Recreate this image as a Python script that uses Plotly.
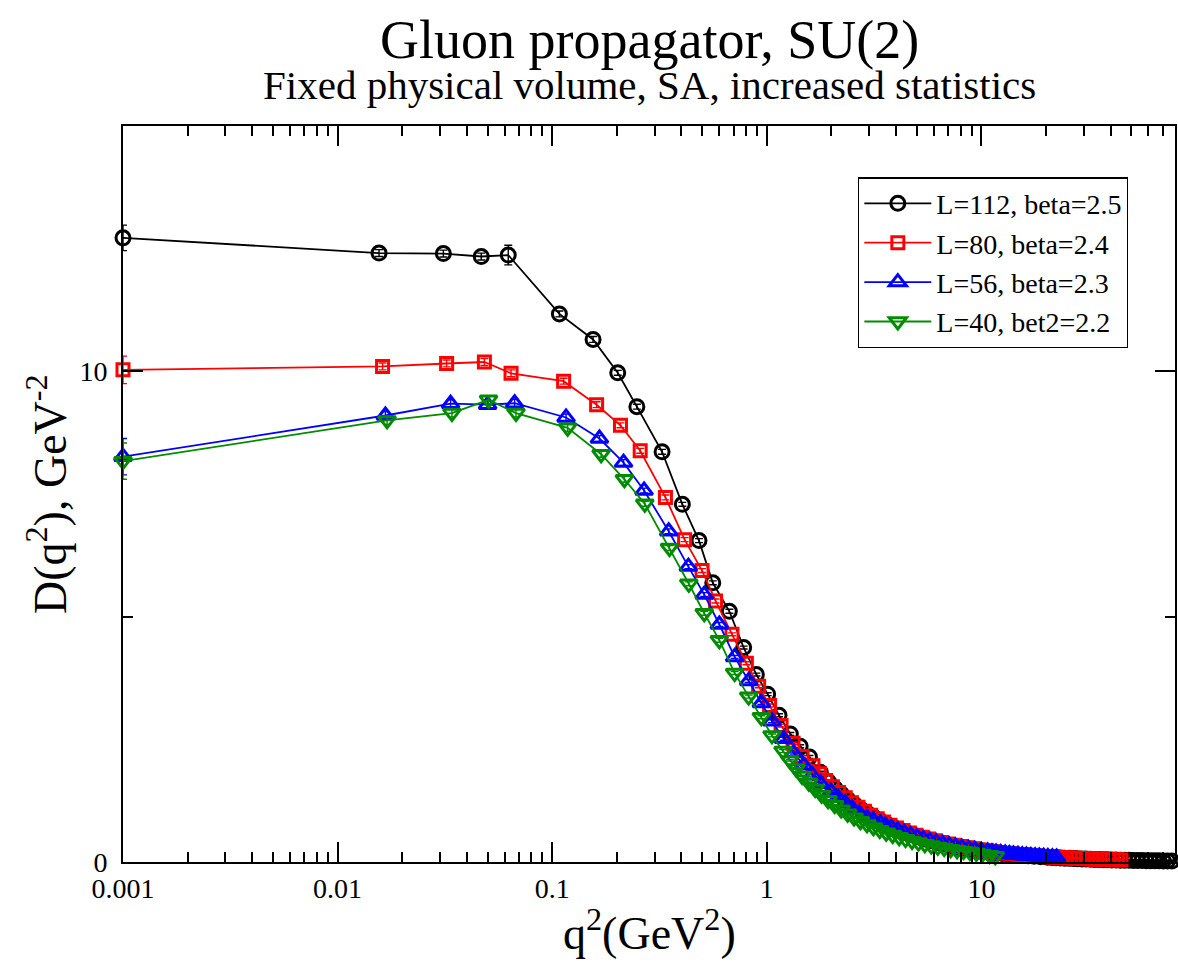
import plotly.graph_objects as go

# ---------------- data ----------------
# L=112, beta=2.5
q2_L112 = [0.001, 0.0156, 0.0311, 0.0467, 0.0624, 0.108, 0.155, 0.202, 0.248, 0.325,
           0.404, 0.483, 0.560, 0.669, 0.780, 0.894, 1.009, 1.14, 1.287, 1.43, 1.58, 1.775, 1.94,
           2.08, 2.23, 2.39, 2.56, 2.74, 2.94, 3.15, 3.37, 3.61, 3.87,
           4.15, 4.44, 4.76, 5.10, 5.46, 5.85, 6.27, 6.72, 7.20, 7.71,
           8.26, 8.85, 9.48, 10.2, 10.9, 11.7, 12.5, 13.4, 14.3, 15.4,
           16.5, 17.6, 18.9, 20.3,
           21.3, 22.3, 23.3, 24.4, 25.6, 26.8, 28.0, 29.4, 30.7, 32.2,
           33.7, 35.3, 37.0, 38.7, 40.5, 42.4, 44.4, 46.5, 48.7, 51.0,
           53.4, 55.9, 58.6, 61.3, 64.2, 67.2, 70.4, 73.7, 77.2, 80.8, 84.6]
D_L112 = [12.72, 12.41, 12.40, 12.34, 12.37, 11.17, 10.65, 9.97, 9.28, 8.36,
          7.29, 6.55, 5.69, 5.11, 4.37, 3.82, 3.42, 2.99, 2.61, 2.36, 2.14, 1.83, 1.63,
          1.500, 1.381, 1.271, 1.170, 1.077, 0.991, 0.912, 0.839, 0.773, 0.711,
          0.655, 0.602, 0.554, 0.510, 0.470, 0.432, 0.398, 0.366, 0.337, 0.310,
          0.286, 0.263, 0.242, 0.223, 0.205, 0.189, 0.174, 0.160, 0.147, 0.135,
          0.125, 0.115, 0.106, 0.097,
          0.092, 0.087, 0.082, 0.078, 0.074, 0.070, 0.066, 0.062, 0.059, 0.056,
          0.053, 0.050, 0.047, 0.045, 0.042, 0.040, 0.038, 0.036, 0.034, 0.032,
          0.030, 0.029, 0.027, 0.026, 0.024, 0.023, 0.022, 0.021, 0.020, 0.018, 0.017]
err_L112 = [0.26, 0.07, 0.07, 0.07, 0.20, 0.06, 0.06, 0.05, 0.05, 0.05,
            0.04, 0.04, 0.04, 0.04, 0.03, 0.03, 0.03, 0.03, 0.03, 0.03, 0.03, 0.02, 0.02]

# L=80, beta=2.4
q2_L80 = [0.001, 0.0162, 0.0322, 0.0483, 0.0643, 0.113, 0.161, 0.208, 0.257, 0.337,
          0.414, 0.499, 0.577, 0.688, 0.803, 0.916, 1.03, 1.165, 1.325, 1.46, 1.64,
          1.76, 1.88, 2.02, 2.16, 2.32, 2.48, 2.66, 2.85, 3.05, 3.27,
          3.50, 3.75, 4.02, 4.31, 4.62, 4.95, 5.30, 5.68, 6.09, 6.52,
          6.99, 7.49, 8.02, 8.60, 9.21, 9.87, 10.6, 11.3, 12.1, 13.0,
          13.9, 14.9, 16.0, 17.1, 18.3, 19.6,
          20.6, 21.5, 22.5, 23.6, 24.7, 25.9, 27.1, 28.4, 29.7, 31.1,
          32.6, 34.1, 35.7, 37.4, 39.2, 41.0, 42.9, 44.7]
D_L80 = [10.03, 10.10, 10.16, 10.19, 9.96, 9.80, 9.32, 8.90, 8.38, 7.43,
         6.57, 5.94, 5.32, 4.64, 4.05, 3.58, 3.19, 2.78, 2.42, 2.15, 1.96,
         1.798, 1.661, 1.534, 1.417, 1.309, 1.209, 1.117, 1.032, 0.953, 0.880,
         0.813, 0.751, 0.694, 0.641, 0.592, 0.547, 0.505, 0.467, 0.431, 0.398,
         0.368, 0.340, 0.314, 0.290, 0.268, 0.247, 0.228, 0.211, 0.195, 0.180,
         0.166, 0.154, 0.142, 0.131, 0.121, 0.112,
         0.106, 0.101, 0.096, 0.091, 0.086, 0.082, 0.077, 0.073, 0.070, 0.066,
         0.063, 0.059, 0.056, 0.053, 0.051, 0.048, 0.046, 0.043]
err_L80 = [0.28, 0.07, 0.07, 0.07, 0.07, 0.06, 0.06, 0.05, 0.05, 0.05,
           0.04, 0.04, 0.04, 0.03, 0.03, 0.03, 0.03, 0.03, 0.02, 0.02, 0.02]

# L=56, beta=2.3
q2_L56 = [0.001, 0.0167, 0.0336, 0.0500, 0.0668, 0.116, 0.166, 0.215, 0.268, 0.349,
          0.431, 0.511, 0.601, 0.708, 0.823, 0.943, 1.057, 1.197, 1.334, 1.485,
          1.63, 1.78, 1.99, 2.15, 2.32, 2.50, 2.70, 2.93, 3.13, 3.39, 3.56, 3.80,
          4.07, 4.36, 4.67, 5.01, 5.36, 5.75, 6.16, 6.60, 7.07, 7.57,
          8.11, 8.69, 9.31, 9.98, 10.7,
          11.2, 11.7, 12.3, 12.9, 13.5, 14.1, 14.8, 15.5, 16.2, 17.0,
          17.8, 18.6, 19.5, 20.4, 21.4, 22.4]
D_L56 = [8.26, 9.10, 9.34, 9.32, 9.35, 9.06, 8.63, 8.14, 7.57, 6.74,
         6.02, 5.45, 4.84, 4.18, 3.69, 3.24, 2.87, 2.51, 2.22, 1.97,
         1.77, 1.60, 1.43, 1.31, 1.20, 1.09, 0.99, 0.90, 0.85, 0.785, 0.745, 0.70,
         0.647, 0.597, 0.552, 0.510, 0.471, 0.435, 0.402, 0.371, 0.343, 0.317,
         0.292, 0.270, 0.250, 0.231, 0.213,
         0.202, 0.192, 0.182, 0.172, 0.163, 0.155, 0.147, 0.139, 0.132, 0.125,
         0.119, 0.113, 0.107, 0.101, 0.096, 0.091]
err_L56 = [0.37, 0.08, 0.08, 0.08, 0.08, 0.07, 0.06, 0.06, 0.05, 0.05,
           0.04, 0.04, 0.04, 0.03, 0.03, 0.03, 0.03, 0.03, 0.02, 0.02,
           0.02, 0.02, 0.02, 0.02, 0.02, 0.02, 0.02, 0.02, 0.02, 0.02, 0.02, 0.02]

# L=40, beta=2.2
q2_L40 = [0.001, 0.0170, 0.0341, 0.0505, 0.0678, 0.118, 0.169, 0.217, 0.270, 0.352,
          0.433, 0.511, 0.601, 0.708, 0.823, 0.943, 1.057, 1.19,
          1.28, 1.37, 1.46, 1.57, 1.68, 1.80, 1.93, 2.07, 2.22, 2.38,
          2.55, 2.73, 2.93, 3.14, 3.36, 3.60, 3.86, 4.14, 4.43, 4.75,
          5.09, 5.45, 5.84, 6.26, 6.71, 7.19, 7.70, 8.25, 8.84, 9.47,
          10.1, 10.9, 11.6]
D_L40 = [8.17, 9.00, 9.15, 9.42, 9.15, 8.85, 8.31, 7.80, 7.30, 6.40,
         5.67, 5.07, 4.52, 3.85, 3.37, 2.95, 2.58, 2.26,
         2.071, 1.906, 1.754, 1.615, 1.486, 1.368, 1.259, 1.159, 1.067, 0.982,
         0.904, 0.832, 0.766, 0.705, 0.649, 0.597, 0.550, 0.506, 0.466, 0.429,
         0.395, 0.363, 0.334, 0.308, 0.283, 0.261, 0.240, 0.221, 0.203, 0.185,
         0.165, 0.140, 0.115]
err_L40 = [0.37, 0.08, 0.08, 0.08, 0.08, 0.07, 0.06, 0.06, 0.05, 0.05,
           0.04, 0.04, 0.04, 0.03, 0.03, 0.03, 0.03, 0.03]

legend_names = ["L=112, beta=2.5", "L=80, beta=2.4", "L=56, beta=2.3", "L=40, bet2=2.2"]

x_major_vals = [0.001, 0.01, 0.1, 1, 10]
x_major_text = ["0.001", "0.01", "0.1", "1", "10"]
y_major_vals = [0, 10]
y_major_text = ["0", "10"]
y_minor_vals = [5]

title_text = "Gluon propagator, SU(2)"
subtitle_text = "Fixed physical volume, SA, increased statistics"
x_title = "q<sup>2</sup>(GeV<sup>2</sup>)"
y_title = "D(q<sup>2</sup>), GeV<sup>-2</sup>"

# ---------------- figure ----------------
FONT = "Liberation Serif, Times New Roman, serif"
colors = ["black", "rgb(255,0,0)", "rgb(0,0,255)", "rgb(0,139,0)"]
symbols = ["circle", "square", "triangle-up", "triangle-down"]
sizes = [14, 12, 15, 15]

data = [(q2_L112, D_L112, err_L112), (q2_L80, D_L80, err_L80),
        (q2_L56, D_L56, err_L56), (q2_L40, D_L40, err_L40)]

fig = go.Figure()
for (q, d, e), name, col, sym, sz in zip(data, legend_names, colors, symbols, sizes):
    errs = e + [0.015] * (len(q) - len(e))
    fig.add_trace(go.Scatter(
        x=q, y=d, mode="lines+markers", name=name, cliponaxis=False,
        line=dict(color=col, width=1.8),
        marker=dict(symbol=sym, size=sz, color="rgba(255,255,255,0)",
                    line=dict(width=3, color=col)),
        error_y=dict(type="data", array=errs, visible=True, color=col,
                     thickness=1.4, width=4),
    ))

x_minor_vals = [m * 10.0 ** k for k in range(-3, 2) for m in range(2, 10)]

axis_common = dict(
    ticks="inside", ticklen=20, tickwidth=1.5, tickcolor="black",
    showline=True, linecolor="black", linewidth=2, mirror="allticks",
    showgrid=False, zeroline=False,
    tickfont=dict(family=FONT, size=28, color="black"),
)

fig.update_layout(
    width=1178, height=963,
    margin=dict(l=123, r=3, t=126, b=101, autoexpand=False),
    paper_bgcolor="white", plot_bgcolor="white",
    font=dict(family=FONT, color="black", size=28),
    showlegend=True,
    legend=dict(x=0.6987, y=0.9303, xanchor="left", yanchor="top",
                bordercolor="black", borderwidth=1.3, bgcolor="white",
                font=dict(family=FONT, size=28, color="black"),
                itemwidth=67, tracegroupgap=0),
    xaxis=dict(type="log", range=[-3, 1.902],
               tickmode="array", tickvals=x_major_vals, ticktext=x_major_text,
               minor=dict(tickmode="array", tickvals=x_minor_vals, ticks="inside",
                          ticklen=10, tickwidth=1.5, tickcolor="black", showgrid=False),
               **axis_common),
    yaxis=dict(range=[0, 15],
               tickmode="array", tickvals=y_major_vals, ticktext=y_major_text,
               ticklabelstandoff=8,
               minor=dict(tickmode="array", tickvals=y_minor_vals, ticks="inside",
                          ticklen=10, tickwidth=1.5, tickcolor="black", showgrid=False),
               **axis_common),
    annotations=[
        dict(text=title_text, x=0.5, y=1.1164, xref="paper", yref="paper",
             showarrow=False, xanchor="center", yanchor="middle",
             font=dict(family=FONT, size=54, color="black")),
        dict(text=subtitle_text, x=0.5, y=1.0560, xref="paper", yref="paper",
             showarrow=False, xanchor="center", yanchor="middle",
             font=dict(family=FONT, size=41, color="black")),
        dict(text=x_title, x=0.5, y=-0.0928, xref="paper", yref="paper",
             showarrow=False, xanchor="center", yanchor="middle",
             font=dict(family=FONT, size=46, color="black")),
        dict(text=y_title, x=-0.0722, y=0.5, xref="paper", yref="paper",
             showarrow=False, xanchor="center", yanchor="middle", textangle=-90,
             font=dict(family=FONT, size=46, color="black")),
    ],
)

fig.write_html("out.html")
